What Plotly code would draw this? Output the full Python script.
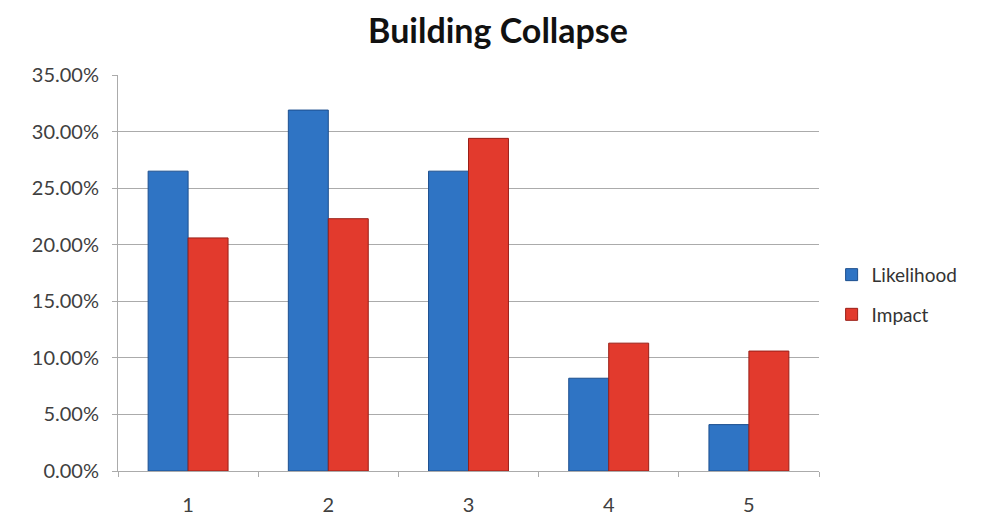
import plotly.graph_objects as go

categories = ["1", "2", "3", "4", "5"]
likelihood = [0.265, 0.319, 0.265, 0.082, 0.041]
impact = [0.206, 0.223, 0.294, 0.113, 0.106]

fig = go.Figure()

fig.add_trace(go.Bar(
    x=categories, y=likelihood,
    name="Likelihood",
    legendgroup="a",
    marker=dict(color="#2F74C4", line=dict(color="#1D4F8E", width=1)),
))
fig.add_trace(go.Bar(
    x=categories, y=impact,
    name="Impact",
    legendgroup="b",
    marker=dict(color="#E23A2D", line=dict(color="#9A1F17", width=1)),
))

fig.update_layout(
    width=980, height=507,
    paper_bgcolor="white",
    plot_bgcolor="white",
    font=dict(family="Lato, Open Sans, sans-serif", color="#404040", size=20),
    title=dict(
        text="<b>Building Collapse</b>",
        x=0.5, xanchor="center",
        y=0.955, yanchor="middle",
        font=dict(size=34, color="#111111", family="Lato, Open Sans, sans-serif"),
    ),
    margin=dict(l=110, r=169, t=67, b=44),
    barmode="group",
    bargap=0.43,
    bargroupgap=0,
    showlegend=True,
    legend=dict(
        x=1.018, xanchor="left",
        y=0.445, yanchor="middle",
        font=dict(size=19, color="#333333"),
        tracegroupgap=12,
        itemwidth=30,
    ),
)

fig.update_yaxes(
    range=[0, 0.35],
    dtick=0.05,
    tickformat=".2%",
    showgrid=True, gridcolor="#ABABAB", gridwidth=1,
    showline=True, linecolor="#ABABAB", linewidth=1,
    ticks="outside", ticklen=5, tickcolor="#ABABAB",
    ticklabelstandoff=9,
    zeroline=False,
    automargin=False,
    tickfont=dict(size=20, color="#404040"),
)
fig.update_xaxes(
    type="category",
    showline=True, linecolor="#ABABAB", linewidth=1,
    ticks="outside", ticklen=5, tickcolor="#ABABAB",
    tickson="boundaries",
    ticklabelstandoff=16,
    showgrid=False,
    automargin=False,
    tickfont=dict(size=20, color="#404040"),
)

fig.write_html("out.html")
